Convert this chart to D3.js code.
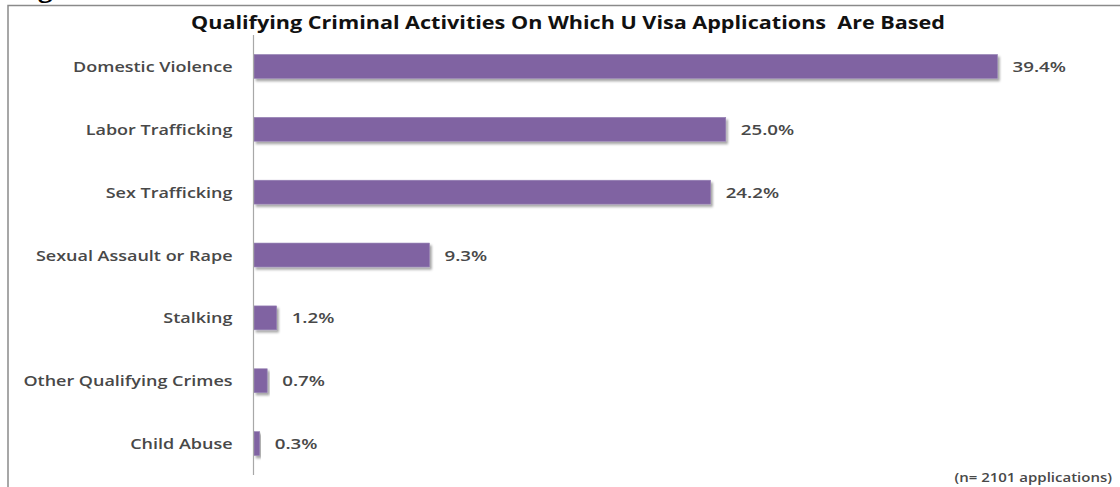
<!DOCTYPE html>
<html>
<head>
<meta charset="utf-8">
<script src="https://cdn.jsdelivr.net/npm/d3@7"></script>
<style>
  html, body { margin: 0; padding: 0; background: #fff; }
  svg { display: block; }
</style>
</head>
<body>
<svg id="chart" width="1120" height="487"></svg>
<script>
// Qualifying crimes and their share of U visa applications (%)
const categories = [
  "Domestic Violence",
  "Labor Trafficking",
  "Sex Trafficking",
  "Sexual Assault or Rape",
  "Stalking",
  "Other Qualifying Crimes",
  "Child Abuse"
];
const shares = [39.4, 25.0, 24.2, 9.3, 1.2, 0.7, 0.3];
const valueLabels = ["39.4%", "25.0%", "24.2%", "9.3%", "1.2%", "0.7%", "0.3%"];
const titleText = "Qualifying Criminal Activities On Which U Visa Applications\u00A0 Are Based";
const noteText = "(n= 2101 applications)";
const headingText = "Figure";

const W = 1120, H = 487;
const SX = 1.2; // horizontal text stretch
const svg = d3.select("#chart");

const defs = svg.append("defs");
const f = defs.append("filter").attr("id", "barShadow")
  .attr("x", "-10%").attr("y", "-30%").attr("width", "130%").attr("height", "180%");
f.append("feDropShadow").attr("dx", 2).attr("dy", 2.5).attr("stdDeviation", 1.2)
  .attr("flood-color", "#000").attr("flood-opacity", 0.35);

// Text helper: positions text and stretches it horizontally
function stretchedText(g, x, y, str, anchor, sx = SX) {
  return g.append("text")
    .attr("transform", `translate(${x},${y}) scale(${sx},1)`)
    .attr("text-anchor", anchor)
    .text(str);
}

// Page heading fragment above the frame
svg.append("text")
  .attr("x", 11).attr("y", -3)
  .attr("font-family", "'Liberation Serif', serif")
  .attr("font-weight", "bold").attr("font-size", 30)
  .attr("fill", "#000")
  .text(headingText);

// Frame (top and left edges)
svg.append("path")
  .attr("d", `M8,${H} L8,5.5 L${W},5.5`)
  .attr("fill", "none").attr("stroke", "#8a8a8a").attr("stroke-width", 1.5);

// Title
stretchedText(svg, 568, 28.5, titleText, "middle", 1.27)
  .attr("font-family", "'Open Sans', sans-serif")
  .attr("font-weight", "bold").attr("font-size", 17)
  .attr("fill", "#111");

// Scales
const x = d3.scaleLinear().domain([0, 40]).range([254, 1008.8]);
const y = d3.scaleBand().domain(categories).range([35, 475]).paddingInner(0.62).paddingOuter(0.31);

// Bars
svg.append("g").selectAll("rect")
  .data(categories)
  .join("rect")
  .attr("x", x(0))
  .attr("y", d => y(d))
  .attr("width", (d, i) => x(shares[i]) - x(0))
  .attr("height", y.bandwidth())
  .attr("fill", "#8064A2")
  .attr("stroke", "#9681b4").attr("stroke-width", 0.6)
  .attr("filter", "url(#barShadow)");

// Category axis
const yAxis = d3.axisLeft(y).tickSize(0).tickPadding(0);
const ag = svg.append("g").attr("transform", `translate(${x(0) - 0.5},0)`).call(yAxis);
ag.select(".domain").attr("stroke", "#a8a8a8").attr("stroke-width", 1.2)
  .attr("d", "M0,35V475");
ag.selectAll(".tick text").remove();
ag.selectAll(".tick").each(function(d) {
  stretchedText(d3.select(this), -21, 5.5, d, "end")
    .attr("font-family", "'Open Sans', sans-serif")
    .attr("font-weight", 600)
    .attr("font-size", 15).attr("fill", "#484848");
});

// Value labels
const lg = svg.append("g");
categories.forEach((c, i) => {
  stretchedText(lg, x(shares[i]) + 15, y(c) + y.bandwidth() / 2 + 5.5, valueLabels[i], "start", 1.25)
    .attr("font-family", "'Open Sans', sans-serif")
    .attr("font-weight", 600)
    .attr("font-size", 15).attr("fill", "#484848");
});

// Sample size note
stretchedText(svg, 1112, 481.5, noteText, "end")
  .attr("font-family", "'Open Sans', sans-serif")
  .attr("font-weight", 600)
  .attr("font-size", 12.5).attr("fill", "#484848");
</script>
</body>
</html>
